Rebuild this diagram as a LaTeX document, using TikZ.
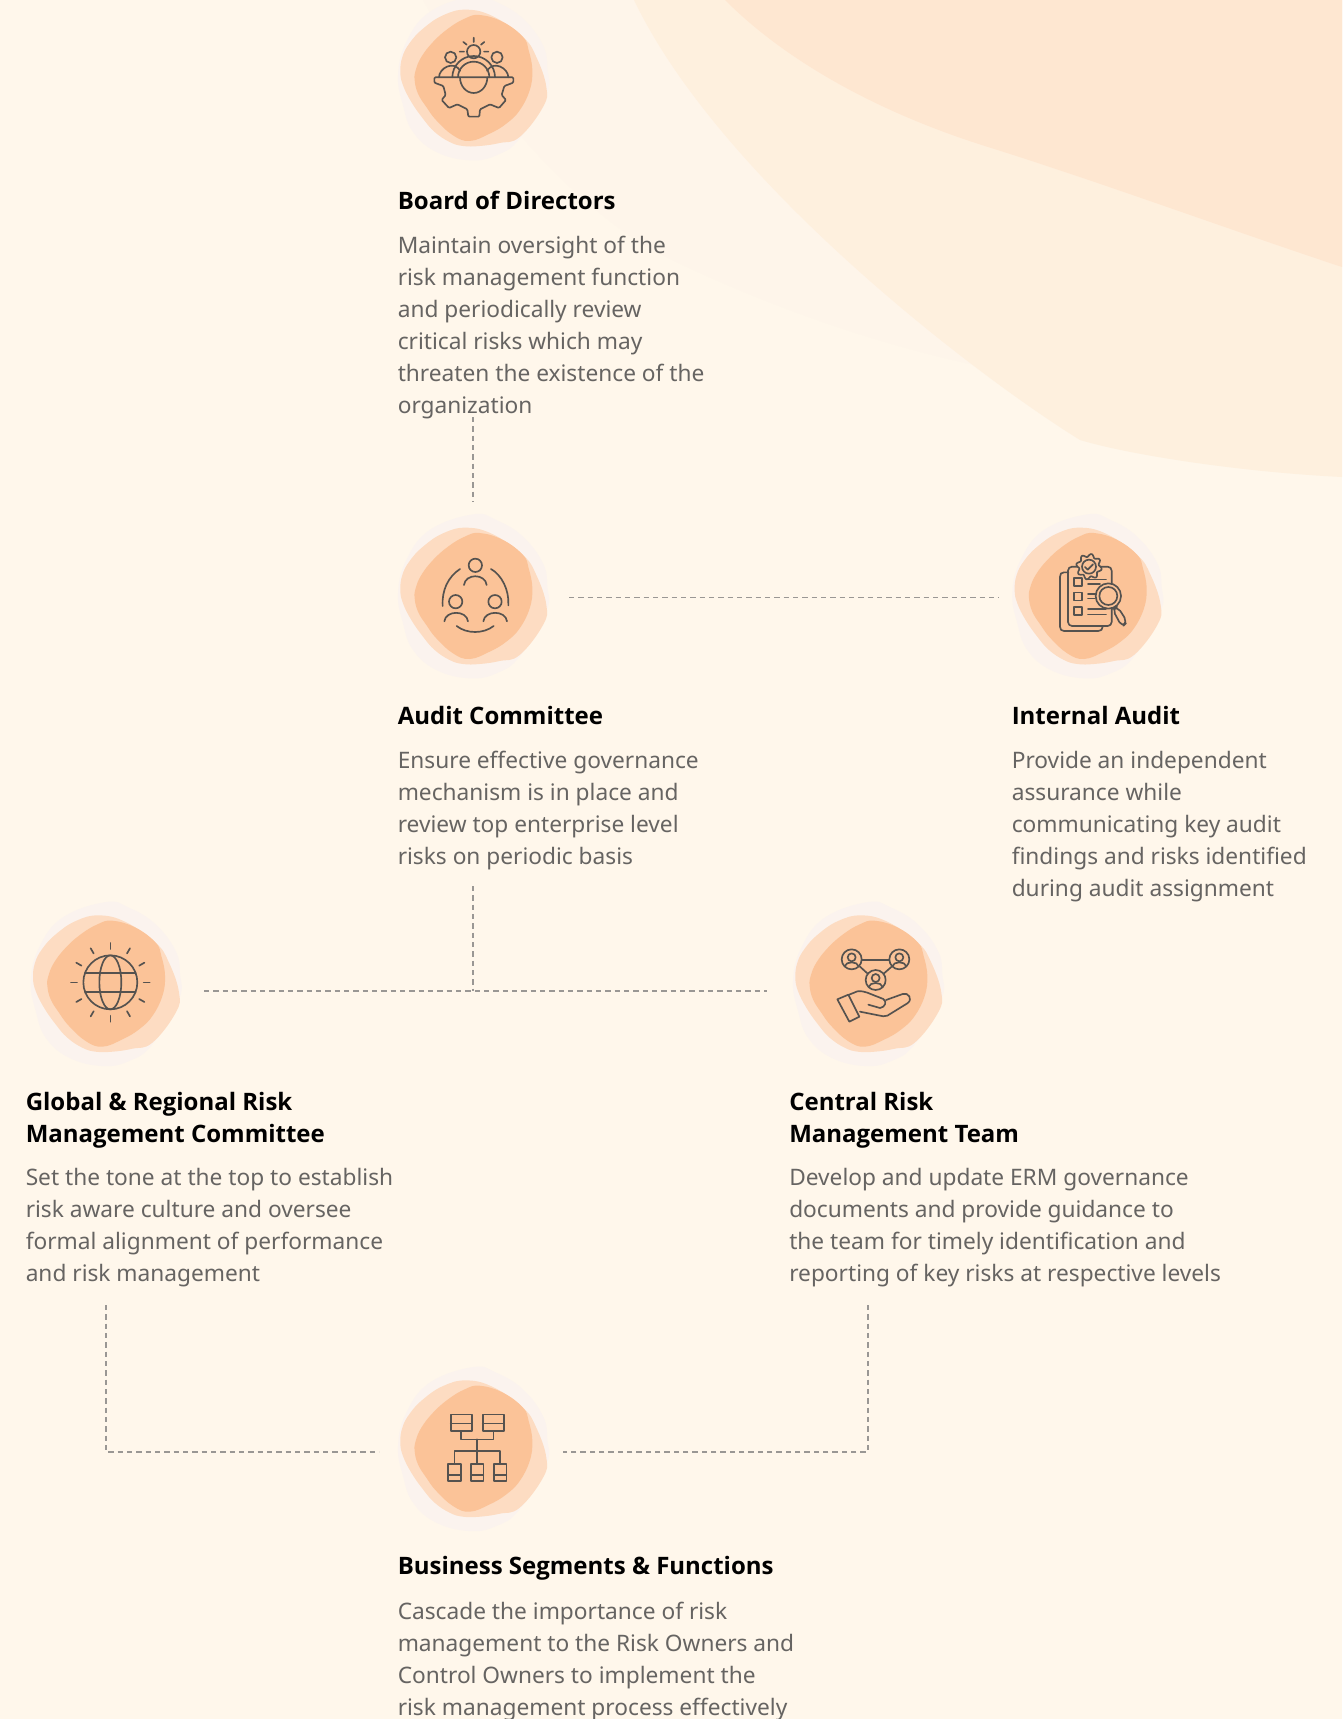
\documentclass[tikz,border=0pt]{standalone}
\usepackage{fontspec}
\usetikzlibrary{calc}
\setmainfont{Noto Sans}
\newfontfamily\headfont{Open Sans}
\definecolor{bgc}{HTML}{FFF7EB}
\definecolor{faintc}{HTML}{FEF5EA}
\definecolor{midc}{HTML}{FEF0DE}
\definecolor{topc}{HTML}{FEE7D1}
\definecolor{blobA}{HTML}{FBF3EE}
\definecolor{blobB}{HTML}{FDDCC2}
\definecolor{blobC}{HTML}{FBC398}
\definecolor{ink}{HTML}{55524F}
\definecolor{bodyc}{HTML}{666462}
\definecolor{dashc}{HTML}{9A9794}
\newcommand{\blobset}[3]{%
\node[anchor point] (#1) at (#2,#3) {};
\begin{scope}[shift={(#2,#3)},x=.25pt,y=-.25pt,shift={(-280,-230)}]
\fill[blobA] plot[smooth cycle,tension=.7] coordinates {(280,-12)(350,5)(430,55)(490,135)(503,205)(500,280)(420,415)(350,465)(270,480)(170,455)(100,395)(70,315)(55,225)(80,125)(150,35)};
\fill[blobB] plot[smooth cycle,tension=.7] coordinates {(260,28)(340,48)(430,110)(470,170)(500,260)(490,320)(420,410)(360,428)(300,437)(250,437)(210,425)(165,395)(130,355)(95,305)(70,255)(62,215)(68,170)(90,128)(130,85)(190,45)};
\fill[blobC] plot[smooth cycle,tension=.7] coordinates {(300,44)(370,65)(430,110)(447,150)(458,210)(450,270)(420,330)(380,370)(330,400)(270,422)(220,405)(170,360)(140,320)(115,280)(105,240)(108,210)(125,170)(160,125)(205,85)(255,55)};
\end{scope}}
\tikzset{
 anchor point/.style={inner sep=0pt,minimum size=0pt,outer sep=0pt},
 titletext/.style={anchor=north west,inner sep=0pt,align=left,text=black,font=\headfont\fontsize{18}{24}\selectfont\bfseries},
 bodytext/.style={anchor=north west,inner sep=0pt,align=left,text=bodyc,font=\fontsize{17.02}{24}\selectfont},
 iconline/.style={draw=ink,line width=1.25pt,line cap=round,line join=round},
 iconframe/.style={shift={(#1)},x=.25pt,y=-.25pt},
 link/.style={draw=dashc,line width=.9pt,dash pattern=on 4pt off 3pt},
}
\begin{document}
\begin{tikzpicture}[x=.75pt,y=-.75pt]
\useasboundingbox (0,0) rectangle (1342,1719);
\fill[bgc] (0,0) rectangle (1342,1719);
% background swooshes
\fill[faintc] (423,0) .. controls (480,100) and (580,215) .. (666,257) .. controls (740,293) and (850,338) .. (975,365) -- (1342,300) -- (1342,0) -- cycle;
\fill[midc] (634,0) .. controls (720,180) and (975,375) .. (1080,440) .. controls (1130,455) and (1240,472) .. (1342,477) -- (1342,0) -- cycle;
\fill[topc] (725,0) .. controls (795,70) and (895,118) .. (988,147) .. controls (1100,182) and (1230,230) .. (1342,267) -- (1342,0) -- cycle;
% blobs
\blobset{board}{473}{77}
\blobset{audit}{473}{595}
\blobset{internal}{1087.3}{595}
\blobset{globalrisk}{105.7}{982.7}
\blobset{central}{868}{982.7}
\blobset{business}{473}{1447.7}
% icon: board
\begin{scope}[iconframe={380,0}]
\draw[iconline] (281,155) circle (20) (212,172) circle (17) (351,172) circle (17);
\draw[iconline] (281,113)--(281,126) (250,126)--(260,134) (313,126)--(303,134) (239,155)--(252,155) (312,155)--(325,155);
\draw[iconline] (240,232) arc (180:0:41 and 47);
\draw[iconline] (177,232) .. controls (177,205) and (220,180) .. (241,212);
\draw[iconline] (385,232) .. controls (385,205) and (342,180) .. (321,212);
\draw[iconline,rounded corners=.8pt] (163,232)--(400,232)--(400,248)--(373,258)--(365,285)--(378,300)--(357,324)--(330,313)--(300,328)--(298,350)--(265,350)--(262,328)--(232,313)--(207,324)--(185,300)--(197,285)--(190,258)--(163,248)--cycle;
\draw[iconline] (234,232) arc (180:360:47);
\draw[iconline] (217,232) arc (180:360:64);
\end{scope}
% icon: audit
\begin{scope}[iconframe={380,510}]
\draw[iconline] (286,166) circle (20) (227,275) circle (20) (345,275) circle (20);
\draw[iconline] (252,225) .. controls (256,190) and (316,190) .. (320,225);
\draw[iconline] (193,334) .. controls (197,300) and (260,300) .. (264,334);
\draw[iconline] (310,334) .. controls (314,300) and (377,300) .. (381,334);
\draw[iconline] (240,177) .. controls (205,200) and (185,240) .. (188,288);
\draw[iconline] (333,177) .. controls (365,195) and (388,240) .. (385,286);
\draw[iconline] (230,348) .. controls (260,372) and (310,372) .. (341,348);
\end{scope}
% icon: internal audit
\begin{scope}[iconframe={1000,510}]
\draw[iconline] (205,187)--(192,187) .. controls (184,187) and (180,192) .. (180,200) -- (180,350) .. controls (180,358) and (184,363) .. (192,363) -- (295,363) .. controls (303,363) and (308,358) .. (308,350);
\draw[iconline,rounded corners=3pt] (204,170) rectangle (335,348);
\draw[iconline] (221,204) rectangle (245,228) (221,247) rectangle (245,271) (221,290) rectangle (245,314);
\draw[iconline] (264,208)--(318,208) (264,222)--(300,222) (264,252)--(290,252) (264,265)--(285,265) (264,297)--(318,297) (264,313)--(318,313);
\begin{scope}[shift={(267,170)}]
\draw[iconline,fill=blobC] plot[domain=0:360,samples=121,smooth] (\x:{34+4.5*sin(8*\x)}) -- cycle;
\draw[iconline] (0,0) circle (21);
\draw[iconline] (-12,1)--(-4,9)--(12,-7);
\end{scope}
\draw[iconline,fill=blobC] (325,258) circle (38);
\draw[iconline] (325,258) circle (27);
\draw[iconline,rounded corners=4pt] (337,297)--(352,289)--(382,336)--(366,351)--cycle;
\end{scope}
% icon: globe
\begin{scope}[iconframe={20,900}]
\draw[iconline] (271,247) circle (81);
\draw[iconline] (271,247) ellipse (33 and 81);
\draw[iconline] (195,218)--(347,218) (195,275)--(347,275);
\foreach \a in {0,30,...,330}{\draw[iconline] ($(271,247)+(\a:100)$)--($(271,247)+(\a:118)$);}
\end{scope}
% icon: central
\begin{scope}[iconframe={780,900}]
\foreach \cx/\cy in {215/178,358/178,287/240}{
\begin{scope}[shift={(\cx,\cy)}]
\draw[iconline] (0,0) circle (30);
\draw[iconline] (0,-6) circle (12);
\draw[iconline] (-21,21) .. controls (-18,5) and (18,5) .. (21,21);
\end{scope}}
\draw[iconline] (246,180)--(327,180) (240,200)--(262,220) (335,200)--(312,220);
\draw[iconline] (172,298)--(205,284)--(238,350)--(208,365)--cycle;
\draw[iconline] (205,285)--(232,274) .. controls (245,272) and (255,276) .. (262,278) -- (310,297) .. controls (322,305) and (315,322) .. (300,324) -- (265,314);
\draw[iconline] (318,300)--(368,282) .. controls (385,276) and (400,298) .. (382,310) -- (322,347) .. controls (315,350) and (305,349) .. (295,346) -- (240,335);
\end{scope}
% icon: business
\begin{scope}[iconframe={390,1370}]
\draw[iconline] (182,133) rectangle (245,183) (182,160)--(245,160) (278,133) rectangle (342,183) (278,160)--(342,160);
\draw[iconline] (213,183)--(213,208)--(310,208)--(310,183) (260,208)--(260,280) (193,280)--(193,242)--(330,242)--(330,280);
\draw[iconline] (174,282) rectangle (212,332) (174,315)--(212,315) (242,282) rectangle (280,332) (242,315)--(280,315) (311,282) rectangle (349,332) (311,315)--(349,315);
\end{scope}
% connectors
\coordinate (a1) at (473,417); \coordinate (a2) at (473,502);
\draw[link] (a1)--(a2);
\coordinate (b1) at (569,597.5); \coordinate (b2) at (998.5,597.5);
\draw[link] (b1)--(b2);
\coordinate (c1) at (473,886); \coordinate (c2) at (473,991);
\draw[link] (c1)--(c2);
\coordinate (d1) at (204,991); \coordinate (d2) at (767,991);
\draw[link] (d1)--(d2);
\coordinate (e1) at (106,1305); \coordinate (e2) at (379,1452);
\draw[link] (e1)|-(e2);
\coordinate (f1) at (868,1305); \coordinate (f2) at (563,1452);
\draw[link] (f1)|-(f2);
% text
\node[titletext] (t1) at (397.5,190.8) {Board of Directors};
\node[bodytext] (b1t) at (397.5,235.8) {Maintain oversight of the\\risk management function\\and periodically review\\critical risks which may\\threaten the existence of the\\organization};
\node[titletext] (t2) at (397.5,705.9) {Audit Committee};
\node[bodytext] (b2t) at (397.5,750.8) {Ensure effective governance\\mechanism is in place and\\review top enterprise level\\risks on periodic basis};
\node[titletext] (t3) at (1011.5,705.9) {Internal Audit};
\node[bodytext] (b3t) at (1011.5,750.8) {Provide an independent\\assurance while\\communicating key audit\\findings and risks identified\\during audit assignment};
\node[titletext] (t4) at (25.5,1092.3) {Global \& Regional Risk\\Management Committee};
\node[bodytext] (b4t) at (25.5,1168.3) {Set the tone at the top to establish\\risk aware culture and oversee\\formal alignment of performance\\and risk management};
\node[titletext] (t5) at (789,1092.3) {Central Risk\\Management Team};
\node[bodytext] (b5t) at (789,1168.3) {Develop and update ERM governance\\documents and provide guidance to\\the team for timely identification and\\reporting of key risks at respective levels};
\node[titletext] (t6) at (397.5,1556.4) {Business Segments \& Functions};
\node[bodytext] (b6t) at (397.5,1601.8) {Cascade the importance of risk\\management to the Risk Owners and\\Control Owners to implement the\\risk management process effectively};
\end{tikzpicture}
\end{document}
